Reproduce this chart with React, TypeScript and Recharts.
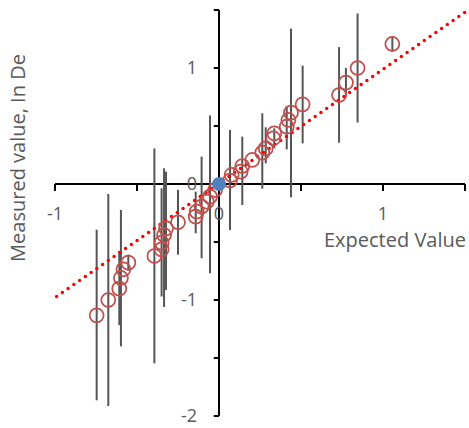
import {
  ScatterChart,
  Scatter,
  XAxis,
  YAxis,
  ErrorBar,
  ReferenceLine,
  ReferenceDot,
  Customized,
} from "recharts";

const expected = [
  -0.746, -0.675, -0.608, -0.598, -0.583, -0.553, -0.394, -0.35, -0.35, -0.335,
  -0.323, -0.25, -0.142, -0.136, -0.106, -0.075, -0.055, -0.024, 0.067, 0.077,
  0.132, 0.142, 0.203, 0.264, 0.285, 0.331, 0.337, 0.413, 0.423, 0.439, 0.51,
  0.732, 0.774, 0.845, 1.057,
];
const measured = [
  -1.132, -1.0, -0.902, -0.81, -0.735, -0.678, -0.621, -0.563, -0.506, -0.44,
  -0.382, -0.33, -0.281, -0.238, -0.195, -0.152, -0.109, -0.052, 0.03, 0.078,
  0.106, 0.155, 0.207, 0.27, 0.307, 0.394, 0.437, 0.494, 0.552, 0.615, 0.687,
  0.767, 0.874, 1.0, 1.207,
];
const errMinus = [
  0.733, 0.914, 0.315, 0.59, 0, 0.07, 0.925, 0.407, 0, 0.62, 0.532, 0.28, 0.144,
  0, 0.445, 0, 0.66, 0, 0.427, 0, 0, 0.336, 0, 0.31, 0.129, 0, 0.13, 0.195, 0,
  0.73, 0.337, 0.411, 0.124, 0.47, 0.067,
];
const errPlus = [
  0.738, 0.914, 0.325, 0.586, 0, 0.07, 0.928, 0.526, 0, 0.575, 0.488, 0.28, 0.215,
  0, 0.431, 0, 0.7, 0, 0.436, 0, 0, 0.253, 0, 0.34, 0.182, 0, 0.043, 0.178, 0,
  0.725, 0.333, 0.413, 0.126, 0.47, 0.063,
];

const originPoint = [{ x: 0, y: 0 }];

// trendline end points
const trendX = [-0.99, 1.5];
const trendY = [-0.97, 1.48];

const xTicks = [-1, -0.5, 0, 0.5, 1, 1.5];
const xTickLabels = ["-1", "", "0", "", "1", ""];
const yTicks = [-2, -1.5, -1, -0.5, 0, 0.5, 1, 1.5];
const yTickLabels = ["-2", "", "-1", "", "0", "", "1", ""];

const points = expected.map((x, i) => ({
  x,
  y: measured[i],
  err: [errMinus[i], errPlus[i]],
}));

const FONT = "'Open Sans', sans-serif";
const GREY = "#595959";

const HollowCircle = (props: any) => (
  <circle
    cx={props.cx}
    cy={props.cy}
    r={7}
    fill="none"
    stroke="#C0504D"
    strokeWidth={1.75}
  />
);

const BlueDot = (props: any) => (
  <circle cx={props.cx} cy={props.cy} r={7} fill="#4F81BD" />
);

const AxisTitles = () => (
  <g fontFamily={FONT} fill={GREY}>
    <text x={466} y={247} textAnchor="end" fontSize={20}>
      Expected Value
    </text>
    <text
      x={25}
      y={158}
      textAnchor="middle"
      fontSize={20}
      transform="rotate(-90, 25, 158)"
    >
      Measured value, In De
    </text>
  </g>
);

export default function App() {
  return (
    <div style={{ position: "absolute", left: 0, top: 0 }}>
      <ScatterChart
        width={469}
        height={428}
        margin={{ top: 10, right: 4, bottom: 12, left: 55 }}
      >
        <XAxis type="number" dataKey="x" domain={[-1, 1.5]} hide />
        <YAxis type="number" dataKey="y" domain={[-2, 1.5]} hide />

        {/* axes crossing at origin */}
        <ReferenceLine x={0} stroke="#000" strokeWidth={2} />
        <ReferenceLine y={0} stroke="#000" strokeWidth={2} />

        {xTicks.map((t) => (
          <ReferenceLine
            key={"xt" + t}
            segment={[
              { x: t, y: 0 },
              { x: t, y: -0.06 },
            ]}
            stroke="#000"
            strokeWidth={2}
          />
        ))}
        {yTicks.map((t) => (
          <ReferenceLine
            key={"yt" + t}
            segment={[
              { x: -0.032, y: t },
              { x: 0, y: t },
            ]}
            stroke="#000"
            strokeWidth={2}
          />
        ))}

        {xTicks.map((t, i) =>
          xTickLabels[i] ? (
            <ReferenceDot
              key={"xl" + t}
              x={t}
              y={0}
              r={0}
              fill="none"
              stroke="none"
              label={{
                value: xTickLabels[i],
                position: "bottom",
                offset: 23,
                fill: GREY,
                fontSize: 18,
                fontFamily: FONT,
              }}
            />
          ) : null
        )}
        {yTicks.map((t, i) =>
          yTickLabels[i] ? (
            <ReferenceDot
              key={"yl" + t}
              x={0}
              y={t}
              r={0}
              fill="none"
              stroke="none"
              label={{
                value: yTickLabels[i],
                position: "left",
                offset: 22,
                fill: GREY,
                fontSize: 18,
                fontFamily: FONT,
              }}
            />
          ) : null
        )}

        <Scatter data={points} shape={HollowCircle} isAnimationActive={false}>
          <ErrorBar
            dataKey="err"
            direction="y"
            width={0}
            stroke="#555"
            strokeWidth={2}
            isAnimationActive={false}
          />
        </Scatter>

        <ReferenceLine
          segment={[
            { x: trendX[0], y: trendY[0] },
            { x: trendX[1], y: trendY[1] },
          ]}
          stroke="#FF0000"
          strokeWidth={3.5}
          strokeDasharray="0 7"
          strokeLinecap="round"
        />

        <Scatter data={originPoint} shape={BlueDot} isAnimationActive={false} />

        <Customized component={AxisTitles} />
      </ScatterChart>
    </div>
  );
}
